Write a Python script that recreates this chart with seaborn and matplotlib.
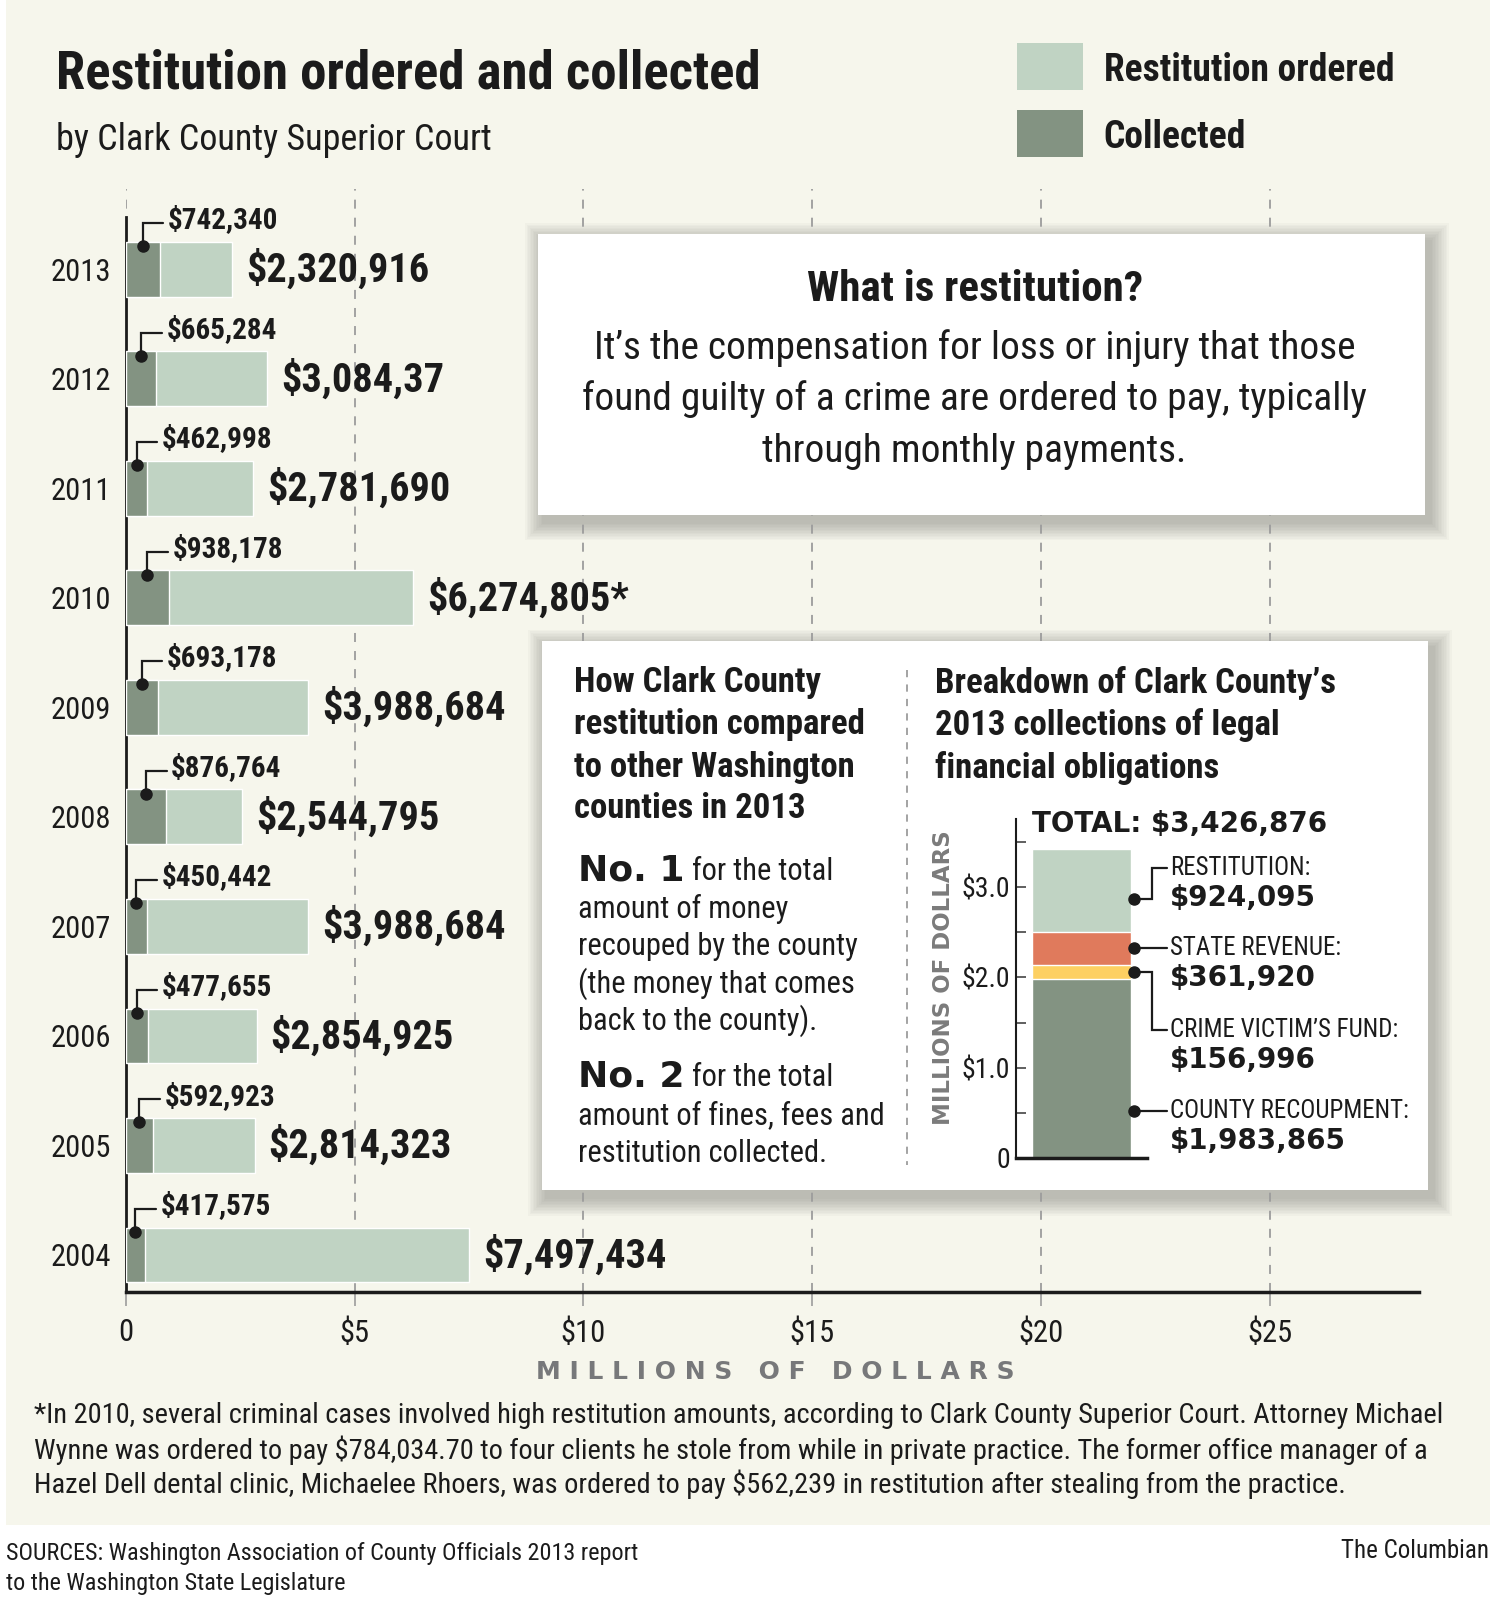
import numpy as np
import pandas as pd
import matplotlib
matplotlib.use("Agg")
import matplotlib.pyplot as plt
import seaborn as sns
from matplotlib import font_manager as fm
from matplotlib.patches import Rectangle

# ---- data ----
years = ['2013', '2012', '2011', '2010', '2009', '2008', '2007', '2006', '2005', '2004']
ordered = [2320916, 3084370, 2781690, 6274805, 3988684, 2544795, 3988684, 2854925, 2814323, 7497434]
ordered_labels = ['$2,320,916', '$3,084,37', '$2,781,690', '$6,274,805*', '$3,988,684',
                  '$2,544,795', '$3,988,684', '$2,854,925', '$2,814,323', '$7,497,434']
collected = [742340, 665284, 462998, 938178, 693178, 876764, 450442, 477655, 592923, 417575]

x_ticks = [0, 5, 10, 15, 20, 25]
x_tick_labels = ['0', '$5', '$10', '$15', '$20', '$25']

segments = ['County recoupment', "Crime victim's fund", 'State revenue', 'Restitution']
segment_values = [1983865, 156996, 361920, 924095]
segment_titles = ['COUNTY RECOUPMENT:', 'CRIME VICTIM\u2019S FUND:', 'STATE REVENUE:', 'RESTITUTION:']
segment_value_labels = ['$1,983,865', '$156,996', '$361,920', '$924,095']
total_label = 'TOTAL: $3,426,876'
mini_ticks = [0, 1, 2, 3]
mini_tick_labels = ['0', '$1.0', '$2.0', '$3.0']

# ---- colours ----
CREAM = '#f6f6ec'
LIGHT = '#c0d3c3'
DARK = '#839382'
ORANGE = '#e07a5c'
YELLOW = '#fdd062'
INK = '#1b1b1b'
GRID = '#9c9c9c'
seg_colors = [DARK, YELLOW, ORANGE, LIGHT]

# ---- fonts ----
names = {f.name for f in fm.fontManager.ttflist}
if 'Liberation Sans Narrow' in names:
    COND, cs = 'Liberation Sans Narrow', 1.0
elif 'Roboto Condensed' in names:
    COND, cs = 'Roboto Condensed', 1.0
else:
    COND, cs = 'Liberation Sans', 0.82
HEAVY = 'DejaVu Sans'

sns.set_theme(style="white")
plt.rcParams['font.family'] = [COND, 'DejaVu Sans']

W, H = 1474, 1568  # layout grid of the reference


def fx(x):
    return x / W


def fy(y):
    return 1 - y / H


fig = plt.figure(figsize=(15.09, 16.05), dpi=100)
fig.patch.set_facecolor('white')
fig.add_artist(Rectangle((fx(6), fy(1490)), fx(1455) - fx(6), fy(0) - fy(1490),
                         transform=fig.transFigure, color=CREAM, lw=0, zorder=-5))

# ---- main chart ----
ax = fig.add_axes([fx(123), fy(1262), fx(1386) - fx(123), fy(185) - fy(1262)])
ax.set_facecolor('none')
df = pd.DataFrame({'year': years,
                   'ordered': np.array(ordered) / 1e6,
                   'collected': np.array(collected) / 1e6})
sns.barplot(data=df, x='ordered', y='year', order=years, orient='h', color=LIGHT,
            saturation=1, width=0.5, errorbar=None, ax=ax, zorder=2)
sns.barplot(data=df, x='collected', y='year', order=years, orient='h', color=DARK,
            saturation=1, width=0.5, errorbar=None, ax=ax, zorder=3)

for i, (o, c, lab) in enumerate(zip(df['ordered'], df['collected'], ordered_labels)):
    ax.annotate(lab, xy=(o, i), xytext=(14, 0), textcoords='offset pixels',
                va='center', ha='left', fontsize=29 * cs, fontweight='bold', color=INK)
    dx = c / 2
    ax.plot([dx, dx, dx + 0.45], [i - 0.21, i - 0.42, i - 0.42], color=INK, lw=1.6,
            zorder=5, solid_joinstyle='miter')
    ax.plot(dx, i - 0.21, 'o', ms=8, color=INK, zorder=6)
    ax.text(dx + 0.55, i - 0.45, f'${collected[i]:,}', va='center', ha='left',
            fontsize=21 * cs, fontweight='bold', color=INK)

ax.set_xlim(0, 28.26)
ax.set_ylim(9.336, -0.729)
ax.set_xticks(x_ticks, x_tick_labels)
ax.set_xlabel('')
ax.set_ylabel('')
ax.grid(axis='x', linestyle=(0, (5, 5)), color=GRID, lw=1.3)
ax.grid(axis='y', visible=False)
ax.set_axisbelow(True)
ax.tick_params(axis='x', length=10, width=1.2, color=GRID, pad=9,
               labelsize=22 * cs, labelcolor=INK, bottom=True)
ax.tick_params(axis='y', length=0, pad=11, labelsize=22 * cs, labelcolor=INK)
for s in ['top', 'right']:
    ax.spines[s].set_visible(False)
ax.spines['left'].set_color(INK)
ax.spines['left'].set_linewidth(2)
ax.spines['left'].set_bounds(9.336, -0.48)
ax.spines['bottom'].set_color(INK)
ax.spines['bottom'].set_linewidth(2.5)

fig.text(fx(757), fy(1340), 'M I L L I O N S   O F   D O L L A R S', ha='center', va='center',
         fontsize=18, fontweight='bold', color='#77787a', family=HEAVY)

# ---- title + legend ----
fig.text(fx(55), fy(72), 'Restitution ordered and collected', ha='left', va='center',
         fontsize=38 * cs, fontweight='bold', color=INK)
fig.text(fx(55), fy(137), 'by Clark County Superior Court', ha='left', va='center',
         fontsize=26 * cs, color=INK)
for (y0, y1), col, lab, ty in [((42, 88), LIGHT, 'Restitution ordered', 69),
                               ((107, 153), DARK, 'Collected', 134)]:
    fig.add_artist(Rectangle((fx(993), fy(y1)), fx(1058) - fx(993), fy(y0) - fy(y1),
                             transform=fig.transFigure, color=col, lw=0))
    fig.text(fx(1078), fy(ty), lab, ha='left', va='center', fontsize=27 * cs,
             fontweight='bold', color=INK)


# ---- boxes with soft shadow ----
def box(x0, y0, x1, y1):
    for k in range(12, 0, -1):
        g = k * 1.5
        fig.add_artist(Rectangle((fx(x0 - g + 5), fy(y1 + g + 7)),
                                 (x1 - x0 + 2 * g) / W, (y1 - y0 + 2 * g) / H,
                                 transform=fig.transFigure, color='#50504a',
                                 alpha=0.03, lw=0, zorder=-1))
    fig.add_artist(Rectangle((fx(x0), fy(y1)), (x1 - x0) / W, (y1 - y0) / H,
                             transform=fig.transFigure, color='white', lw=0, zorder=2))


box(526, 229, 1392, 503)
box(529, 626, 1395, 1163)

fig.text(fx(952), fy(283), 'What is restitution?', ha='center', va='center',
         fontsize=31 * cs, fontweight='bold', color=INK, zorder=3)
for txt, y in [('It\u2019s the compensation for loss or injury that those', 340),
               ('found guilty of a crime are ordered to pay, typically', 390),
               ('through monthly payments.', 441)]:
    fig.text(fx(952), fy(y), txt, ha='center', va='center', fontsize=28.4 * cs,
             color=INK, zorder=3)

# left column
for txt, y in [('How Clark County', 667), ('restitution compared', 708),
               ('to other Washington', 750), ('counties in 2013', 790)]:
    fig.text(fx(561), fy(y), txt, ha='left', va='center', fontsize=25 * cs,
             fontweight='bold', color=INK, zorder=3)

renderer = fig.canvas.get_renderer()
for big, rest, yb in [('No. 1', ' for the total', 860), ('No. 2', ' for the total', 1061)]:
    t1 = fig.text(fx(565), fy(yb), big, ha='left', va='baseline', fontsize=26,
                  fontweight='bold', family=HEAVY, color=INK, zorder=3)
    bb = t1.get_window_extent(renderer)
    fig.text(bb.x1 / fig.bbox.width, fy(yb), rest, ha='left', va='baseline',
             fontsize=22 * cs, color=INK, zorder=3)
for txt, y in [('amount of money', 897), ('recouped by the county', 933),
               ('(the money that comes', 970), ('back to the county).', 1006),
               ('amount of fines, fees and', 1098), ('restitution collected.', 1135)]:
    fig.text(fx(565), fy(y), txt, ha='left', va='baseline', fontsize=22 * cs,
             color=INK, zorder=3)

fig.add_artist(plt.Line2D([fx(886), fx(886)], [fy(655), fy(1138)], transform=fig.transFigure,
                          color=GRID, lw=1.3, linestyle=(0, (4, 4)), zorder=3))

# right column
for txt, y in [('Breakdown of Clark County\u2019s', 667), ('2013 collections of legal', 708),
               ('financial obligations', 750)]:
    fig.text(fx(913), fy(y), txt, ha='left', va='center', fontsize=25 * cs,
             fontweight='bold', color=INK, zorder=3)

# ---- mini stacked bar ----
axm = fig.add_axes([fx(992), fy(1131), fx(1120) - fx(992), fy(800) - fy(1131)])
axm.set_zorder(5)
axm.set_facecolor('none')
seg = pd.DataFrame({'segment': segments, 'value': np.array(segment_values) / 1e6,
                    'color': seg_colors})
seg['top'] = seg['value'].cumsum()
seg['bottom'] = seg['top'] - seg['value']
for _, r in seg[::-1].iterrows():
    sns.barplot(x=['2013'], y=[r['top']], color=r['color'], saturation=1, width=1.0,
                errorbar=None, ax=axm)
axm.set_xlim(-0.665, 0.655)
axm.set_ylim(0, 3.76)
axm.set_xticks([])
axm.set_yticks(mini_ticks, mini_tick_labels)
axm.set_yticks(np.arange(0.5, 3.6, 1.0), minor=True)
axm.tick_params(axis='y', which='both', direction='in', length=7, width=1.2,
                color='#444444', pad=4, labelsize=20 * cs, labelcolor=INK, left=True)
axm.set_xlabel('')
axm.set_ylabel('')
for s in ['top', 'right']:
    axm.spines[s].set_visible(False)
axm.spines['left'].set_color(INK)
axm.spines['left'].set_linewidth(1.5)
axm.spines['bottom'].set_color(INK)
axm.spines['bottom'].set_linewidth(2.5)

axm.text(-0.5, 3.70, total_label, ha='left', va='center', fontsize=20, fontweight='bold',
         family=HEAVY, color=INK, clip_on=False)

anchor_frac = [0.26, 0.5, 0.5, 0.4]
title_shift = [0.0, -0.65, 0.0, 0.34]
bx, elbow, end, tx = 0.53, 0.71, 0.86, 0.89
for k, r in seg.iterrows():
    a = r['bottom'] + anchor_frac[k] * r['value']
    ly = a + title_shift[k]
    axm.plot([bx, elbow, elbow, end], [a, a, ly, ly], color=INK, lw=1.6, clip_on=False,
             solid_joinstyle='miter')
    axm.plot(bx, a, 'o', ms=8, color=INK, clip_on=False)
    axm.text(tx, ly, segment_titles[k], ha='left', va='center', fontsize=18 * cs,
             color=INK, clip_on=False)
    axm.text(tx, ly - 0.33, segment_value_labels[k], ha='left', va='center', fontsize=20,
             fontweight='bold', family=HEAVY, color=INK, clip_on=False)

fig.text(fx(922), fy(955), 'MILLIONS OF DOLLARS', rotation=90, ha='center', va='center',
         fontsize=16.5, fontweight='bold', family=HEAVY, color='#7b7b7b', zorder=3)

# ---- footnote + sources ----
for txt, y in [('*In 2010, several criminal cases involved high restitution amounts, according to '
                'Clark County Superior Court. Attorney Michael', 1383),
               ('Wynne was ordered to pay $784,034.70 to four clients he stole from while in '
                'private practice. The former office manager of a', 1417),
               ('Hazel Dell dental clinic, Michaelee Rhoers, was ordered to pay $562,239 in '
                'restitution after stealing from the practice.', 1450)]:
    fig.text(fx(33), fy(y), txt, ha='left', va='center', fontsize=20.4 * cs, color=INK)

fig.text(fx(6), fy(1518), 'SOURCES: Washington Association of County Officials 2013 report',
         ha='left', va='center', fontsize=17.4 * cs, color=INK)
fig.text(fx(6), fy(1547), 'to the Washington State Legislature',
         ha='left', va='center', fontsize=17.4 * cs, color=INK)
fig.text(fx(1454), fy(1515), 'The Columbian', ha='right', va='center',
         fontsize=18 * cs, color=INK)

fig.savefig('out.png', dpi=100, facecolor='white')
